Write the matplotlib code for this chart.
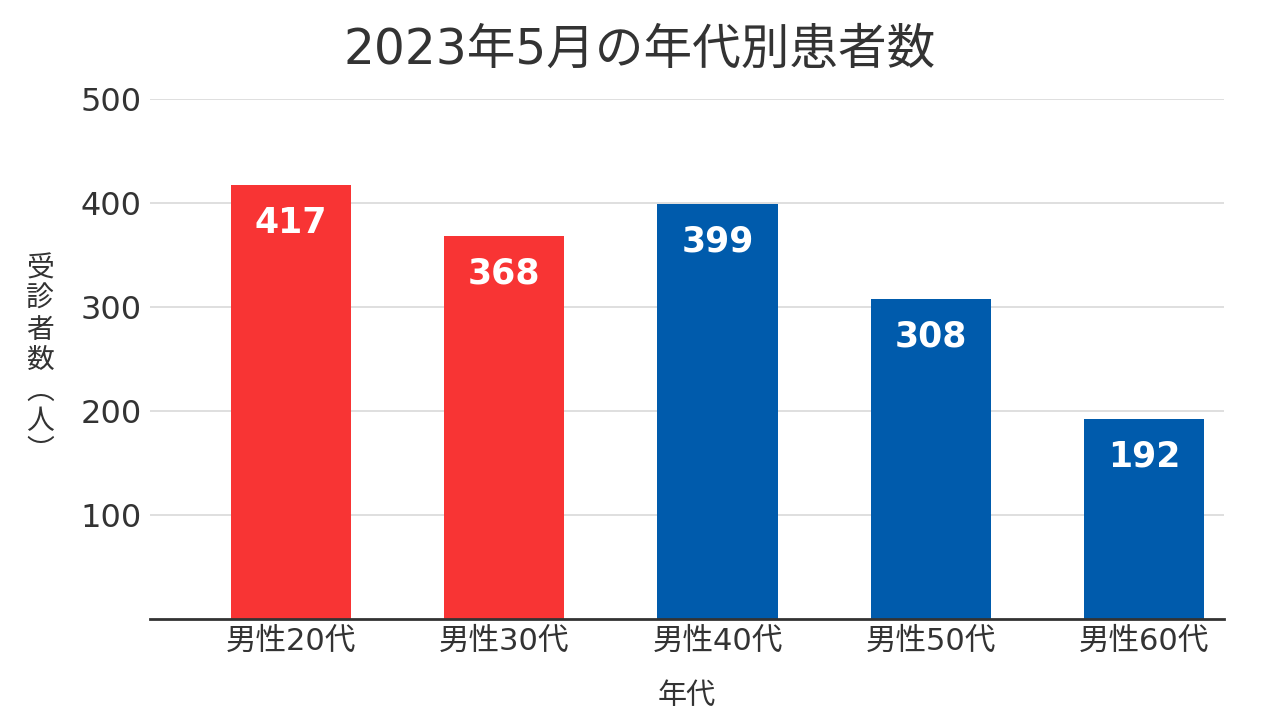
import matplotlib
matplotlib.use("Agg")
import matplotlib.pyplot as plt

# digits in a wide latin face, kanji fall back to Noto CJK
plt.rcParams['font.family'] = ['DejaVu Sans', 'Noto Sans CJK JP']

categories = ['男性20代', '男性30代', '男性40代', '男性50代', '男性60代']
patients = [417, 368, 399, 308, 192]
colors = ['#f83434', '#f83434', '#005bac', '#005bac', '#005bac']
yticks = [100, 200, 300, 400, 500]

fig = plt.figure(figsize=(12.8, 7.2), dpi=100)
ax = fig.add_axes([150 / 1280, 1 - 619 / 720, 1074 / 1280, 520 / 720])

x = list(range(len(categories)))
ax.bar(x, patients, width=0.563, color=colors, zorder=3)

for xi, v in zip(x, patients):
    ax.annotate(str(v), (xi, v), xytext=(0, -27), textcoords='offset points',
                ha='center', va='center', color='white', fontsize=25,
                fontweight='bold', zorder=4)

ax.set_xlim(-0.661, 4.375)
ax.set_ylim(0, 500)
ax.set_yticks(yticks)
ax.set_yticklabels([str(t) for t in yticks])
ax.set_xticks(x)
ax.set_xticklabels(categories)
ax.tick_params(axis='y', length=0, labelsize=23, colors='#333333', pad=6)
ax.tick_params(axis='x', length=0, labelsize=22, colors='#333333', pad=6)
ax.grid(axis='y', color='#d9d9d9', linewidth=1.2, zorder=0)

for s in ['top', 'right', 'left']:
    ax.spines[s].set_visible(False)
ax.spines['bottom'].set_color('#333333')
ax.spines['bottom'].set_linewidth(2)
ax.spines['bottom'].set_zorder(5)

ax.set_xlabel('年代', fontsize=21, color='#333333', labelpad=18,
              family=['Noto Sans CJK JP'])
# vertical axis title, one character per line
fig.text(40 / 1280, 1 - 360 / 720, '受\n診\n者\n数\n︵\n人\n︶',
         ha='center', va='center', fontsize=20, color='#333333', linespacing=1.02,
         family=['Noto Sans CJK JP'])

fig.text(0.5, 1 - 50 / 720, '2023年5月の年代別患者数', ha='center', va='center',
         fontsize=35, color='#333333')

fig.savefig('out.png', dpi=100)
